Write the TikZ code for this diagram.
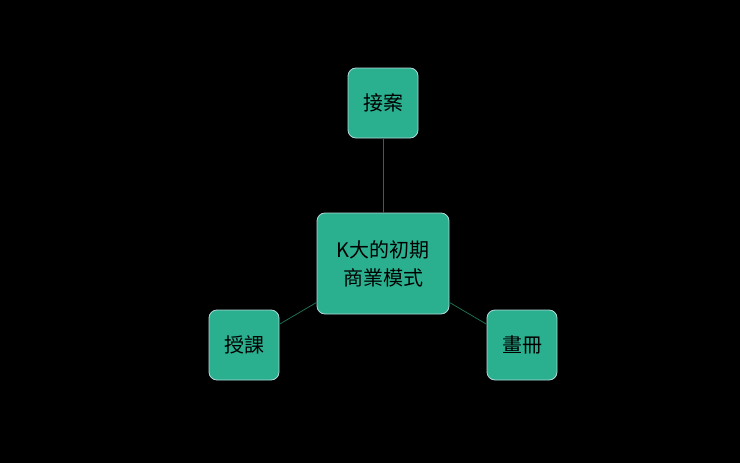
\documentclass[tikz,border=0pt]{standalone}
\usepackage{fontspec}
\newfontfamily\cjk{Noto Sans CJK TC}
\begin{document}
\begin{tikzpicture}[x=1pt,y=-1pt,
  box/.style={draw=teal!30!white,line width=0.8pt,fill={rgb,255:red,43;green,176;blue,143},rounded corners=8pt,align=center,font=\cjk\fontsize{20}{28}\selectfont,text=black,inner sep=0pt},
  link/.style={draw={rgb,255:red,30;green,110;blue,80},line width=0.8pt}]
\fill[black] (0,0) rectangle (740,463);
\node[box,minimum width=132pt,minimum height=101pt] (c) at (383,263.5) {K大的初期\\商業模式};
\node[box,minimum width=70pt,minimum height=70pt] (t) at (383,103) {接案};
\node[box,minimum width=70pt,minimum height=70pt] (l) at (244,345) {授課};
\node[box,minimum width=70pt,minimum height=70pt] (r) at (522,345) {畫冊};
\draw[link] (t) -- (c);
\draw[link] (l) -- (c);
\draw[link] (r) -- (c);
\end{tikzpicture}
\end{document}
